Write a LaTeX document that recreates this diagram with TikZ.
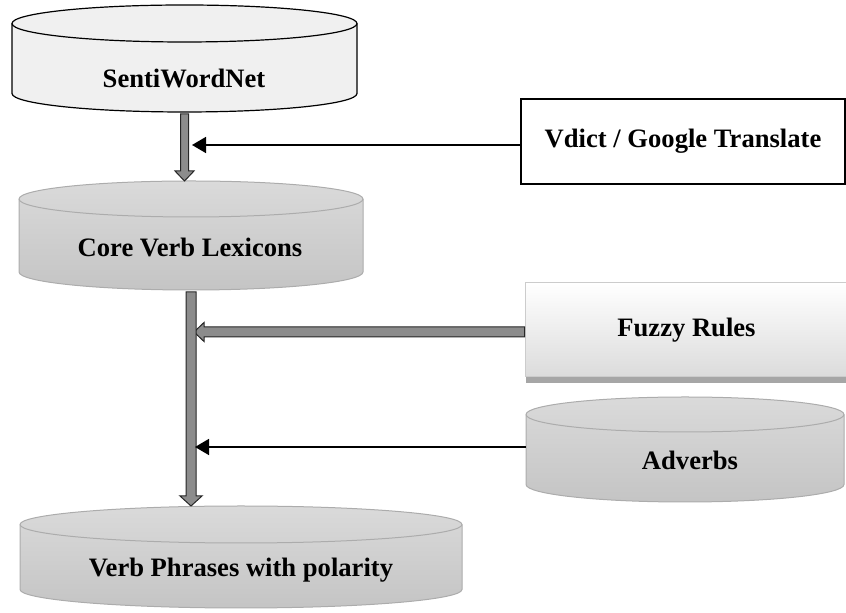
\documentclass[tikz,border=0pt]{standalone}
\usepackage{fontspec}
\setmainfont{Liberation Serif}
\usetikzlibrary{calc,arrows.meta,shadows}

% cylinder: name, left, right, top y, bottom y, ry, body style, rim style
\newcommand{\dbcyl}[8]{%
  \pgfmathsetmacro\cylrx{(#3-#2)/2}
  \pgfmathsetmacro\cylcx{(#2+#3)/2}
  \path[#7] (#2,#4) -- (#2,#5) arc[start angle=180,end angle=0,x radius=\cylrx,y radius=#6]
    -- (#3,#4) arc[start angle=0,end angle=-180,x radius=\cylrx,y radius=#6] -- cycle;
  \draw[#8] (#2,#4) arc[start angle=180,end angle=0,x radius=\cylrx,y radius=#6];
  \coordinate (#1-top) at (\cylcx,#4-#6);
  \coordinate (#1-bot) at (\cylcx,#5+#6);
  \coordinate (#1-left) at (#2,{(#4+#5)/2});
}
% block arrow: start, end, half shaft, half head
\newcommand{\blockarrow}[4]{%
  \coordinate (ba-c) at ($(#2)!5pt!(#1)$);
  \draw[blockarr] ($(#1)!#3!90:(#2)$) -- ($(ba-c)!#3!90:(#2)$) -- ($(ba-c)!#4!90:(#2)$) -- (#2)
    -- ($(ba-c)!#4!-90:(#2)$) -- ($(ba-c)!#3!-90:(#2)$) -- ($(#1)!#3!-90:(#2)$) -- cycle;
}

\begin{document}
\begin{tikzpicture}[x=0.5pt,y=-0.5pt,
  lbl/.style={font=\fontsize{13.3}{16}\selectfont\bfseries},
  swncyl/.style={draw=black,line width=0.6pt,fill=gray!12},
  greycyl/.style={draw=gray!65,line width=0.5pt,top color=gray!29,bottom color=gray!46},
  blockarr/.style={draw=black!85,line width=0.5pt,fill=black!45},
  thinarr/.style={line width=0.8pt,-{Triangle[length=7pt,width=8pt]}}]
\useasboundingbox (0,0) rectangle (846,613);

% stores
\dbcyl{swn}{12}{357}{23.5}{93.5}{18.5}{swncyl}{black,line width=0.6pt}
\dbcyl{core}{19}{363}{199}{272}{18}{greycyl}{gray!65,line width=0.5pt}
\dbcyl{adv}{526}{844}{414.5}{484.5}{17.5}{greycyl}{gray!65,line width=0.5pt}
\dbcyl{vpp}{20}{462}{524.5}{589.5}{18.5}{greycyl}{gray!65,line width=0.5pt}

\node[lbl] (swn) at (184,78) {SentiWordNet};
\node[lbl] (core) at (190,247) {Core Verb Lexicons};
\node[lbl] (adv) at (690,460) {Adverbs};
\node[lbl] (vpp) at (241,570) {Verb Phrases with polarity};

% sources
\node[lbl,draw=black,line width=0.75pt,fill=white,minimum width=162pt,minimum height=42.5pt]
  (vdict) at (683,141.5) {Vdict / Google Translate};
\node[lbl,draw=gray!40,line width=0.5pt,top color=white,bottom color=gray!28,
  minimum width=161.5pt,minimum height=47pt,
  drop shadow={shadow xshift=0.5pt,shadow yshift=-3pt,opacity=1,fill=gray!70}]
  (fuzzy) at (686.5,330) {Fuzzy Rules};

% arrows
\coordinate (j1) at (192,145);
\coordinate (j2) at (194,332);
\coordinate (j3) at (195,447);
\coordinate (a1s) at ($(swn-bot)+(0,2)$);
\coordinate (a3s) at ($(core-bot)+(0,2)$);
\coordinate (f1) at (fuzzy.west |- j2);

\blockarrow{a1s}{swn-bot |- core-top}{2pt}{4.75pt}
\draw[thinarr] (vdict.west |- j1) -- (j1);
\blockarrow{f1}{j2}{2.5pt}{4.75pt}
\blockarrow{a3s}{core-bot |- vpp-top}{2.5pt}{5.5pt}
\draw[thinarr] (adv-left |- j3) -- (j3);
\end{tikzpicture}
\end{document}
